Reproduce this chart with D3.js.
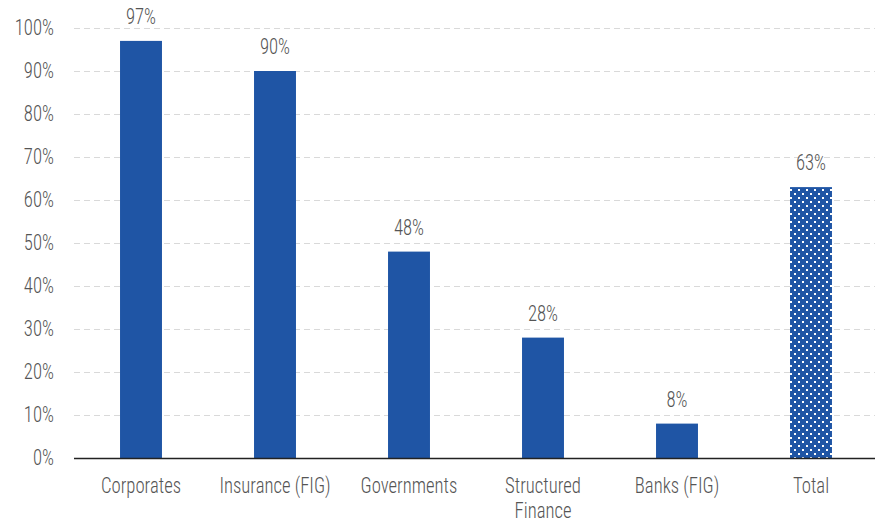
<!DOCTYPE html>
<html>
<head>
<meta charset="utf-8">
<script src="https://cdn.jsdelivr.net/npm/d3@7.9.0/dist/d3.min.js"></script>
<style>
  body { margin: 0; background: #fff; }
  text { font-family: "Roboto Condensed", "Roboto", sans-serif; font-weight: 300; fill: #555; }
</style>
</head>
<body>
<svg id="chart" width="875" height="524"></svg>
<script>
const categories = [['Corporates'], ['Insurance (FIG)'], ['Governments'], ['Structured', 'Finance'], ['Banks (FIG)'], ['Total']];
const values = [0.97, 0.90, 0.48, 0.28, 0.08, 0.63];
const yTicks = [0, 0.1, 0.2, 0.3, 0.4, 0.5, 0.6, 0.7, 0.8, 0.9, 1.0];

const svg = d3.select('#chart');
const barColor = '#1f55a5';
const squeeze = 0.85; // condensed look
const fontSize = 22;

// dotted pattern for the total bar
const defs = svg.append('defs');
const pat = defs.append('pattern')
    .attr('id', 'dots')
    .attr('patternUnits', 'userSpaceOnUse')
    .attr('x', 1)
    .attr('width', 8).attr('height', 8);
pat.append('rect').attr('width', 8).attr('height', 8).attr('fill', barColor);
pat.append('rect').attr('x', 1).attr('y', 1).attr('width', 2).attr('height', 2).attr('fill', '#fff');
pat.append('rect').attr('x', 5).attr('y', 5).attr('width', 2).attr('height', 2).attr('fill', '#fff');

const x = d3.scaleBand()
    .domain(d3.range(categories.length))
    .range([74, 878])
    .paddingInner(0.687)
    .paddingOuter(0.3435);

const y = d3.scaleLinear().domain([0, 1]).range([458, 28]);

const fmt = d => Math.round(d * 100) + '%';

// gridlines
svg.append('g').selectAll('line')
    .data(yTicks.slice(1))
    .join('line')
    .attr('x1', 74).attr('x2', 875)
    .attr('y1', d => y(d) + 0.5).attr('y2', d => y(d) + 0.5)
    .attr('stroke', '#d9d9d9')
    .attr('stroke-dasharray', '6,4');

// y labels
svg.append('g').selectAll('text')
    .data(yTicks)
    .join('text')
    .attr('transform', d => `translate(54,${y(d) + 7}) scale(${squeeze},1)`)
    .attr('text-anchor', 'end')
    .attr('font-size', fontSize)
    .text(fmt);

// bars
svg.append('g').selectAll('rect')
    .data(values)
    .join('rect')
    .attr('x', (d, i) => x(i))
    .attr('width', x.bandwidth())
    .attr('y', d => y(d))
    .attr('height', d => y(0) - y(d))
    .attr('fill', (d, i) => i === values.length - 1 ? 'url(#dots)' : barColor);

// value labels
svg.append('g').selectAll('text')
    .data(values)
    .join('text')
    .attr('transform', (d, i) => `translate(${x(i) + x.bandwidth() / 2},${y(d) - 17}) scale(${squeeze},1)`)
    .attr('text-anchor', 'middle')
    .attr('font-size', fontSize)
    .text(fmt);

// baseline
svg.append('line')
    .attr('x1', 74).attr('x2', 875)
    .attr('y1', y(0) + 0.5).attr('y2', y(0) + 0.5)
    .attr('stroke', '#222').attr('stroke-width', 1.5);

// category labels
const cat = svg.append('g').selectAll('text')
    .data(categories)
    .join('text')
    .attr('transform', (d, i) => `translate(${x(i) + x.bandwidth() / 2},493) scale(${squeeze},1)`)
    .attr('text-anchor', 'middle')
    .attr('font-size', fontSize);
cat.selectAll('tspan')
    .data(d => d)
    .join('tspan')
    .attr('x', 0)
    .attr('dy', (d, i) => i === 0 ? 0 : 25)
    .text(d => d);
</script>
</body>
</html>
